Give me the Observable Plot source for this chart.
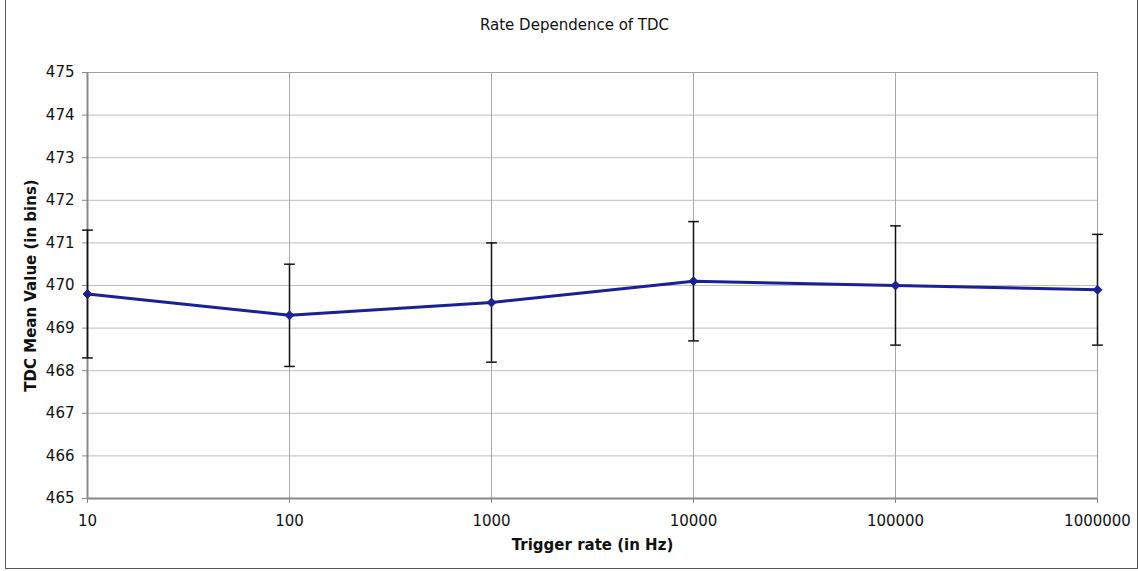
<!DOCTYPE html>
<html>
<head>
<meta charset="utf-8">
<script src="https://cdn.jsdelivr.net/npm/d3@7"></script>
<script src="https://cdn.jsdelivr.net/npm/@observablehq/plot@0.6"></script>
<style>
  html, body { margin: 0; padding: 0; background: #fff; }
  #wrap { position: relative; width: 1138px; height: 571px; }
  #border { position: absolute; left: 5px; top: -1px; width: 1133px; height: 570px; border: 1.5px solid #555; box-sizing: border-box; pointer-events: none; }
</style>
</head>
<body>
<div id="wrap"><div id="border"></div></div>
<script>
const rates = [10, 100, 1000, 10000, 100000, 1000000];
const means = [469.8, 469.3, 469.6, 470.1, 470.0, 469.9];
const lows  = [468.3, 468.1, 468.2, 468.7, 468.6, 468.6];
const highs = [471.3, 470.5, 471.0, 471.5, 471.4, 471.2];
const xTicks = [10, 100, 1000, 10000, 100000, 1000000];
const yTicks = [465, 466, 467, 468, 469, 470, 471, 472, 473, 474, 475];
const titleText = "Rate Dependence of TDC";
const xLabel = "Trigger rate (in Hz)";
const yLabel = "TDC Mean Value (in bins)";

const data = rates.map((r, i) => ({rate: r, mean: means[i], lo: lows[i], hi: highs[i]}));

const capSymbol = {
  draw(ctx, size) {
    const r = Math.sqrt(size);
    ctx.moveTo(-r, 0);
    ctx.lineTo(r, 0);
  }
};
const lineColor = "#1a2096";

const chart = Plot.plot({
  width: 1138,
  height: 571,
  marginLeft: 87,
  marginRight: 41,
  marginTop: 72,
  marginBottom: 73,
  style: { fontFamily: "'DejaVu Sans', Verdana, sans-serif", fontSize: "15px", background: "transparent", color: "#111" },
  x: { type: "log", domain: [10, 1000000], label: null },
  y: { domain: [465, 475], label: null },
  marks: [
    Plot.gridY(yTicks, { stroke: "#bdbdbd", strokeOpacity: 1, strokeWidth: 1 }),
    Plot.gridX(xTicks, { stroke: "#a8a8a8", strokeOpacity: 1, strokeWidth: 1 }),
    Plot.frame({ stroke: "#a0a0a0", strokeWidth: 1 }),
    Plot.ruleY([465], { stroke: "#888", strokeWidth: 2 }),
    Plot.ruleX([10], { stroke: "#888", strokeWidth: 2 }),
    Plot.axisY(yTicks, { tickSize: 5, tickPadding: 8, fontSize: 15, stroke: "#888", tickFormat: d => String(d) }),
    Plot.axisX(xTicks, { tickSize: 5, tickPadding: 12, fontSize: 15, stroke: "#888", tickFormat: d => String(d) }),
    Plot.ruleX(data, { x: "rate", y1: "lo", y2: "hi", stroke: "#111", strokeWidth: 1.5 }),
    Plot.dot(data, { x: "rate", y: "lo", symbol: capSymbol, r: 3, stroke: "#111", strokeWidth: 1.5 }),
    Plot.dot(data, { x: "rate", y: "hi", symbol: capSymbol, r: 3, stroke: "#111", strokeWidth: 1.5 }),
    Plot.line(data, { x: "rate", y: "mean", stroke: lineColor, strokeWidth: 3 }),
    Plot.dot(data, { x: "rate", y: "mean", symbol: "diamond2", r: 4, fill: lineColor, stroke: lineColor, strokeWidth: 1 }),
    Plot.text([titleText], { text: d => d, frameAnchor: "top", dy: -53, dx: -18, fontSize: 15 }),
    Plot.text([xLabel], { text: d => d, frameAnchor: "bottom", dy: 51, fontSize: 15, fontWeight: "bold" }),
    Plot.text([yLabel], { text: d => d, frameAnchor: "left", textAnchor: "middle", dx: -56, rotate: -90, fontSize: 15, fontWeight: "bold" })
  ]
});
document.getElementById("wrap").prepend(chart);
chart.style.position = "absolute";
chart.style.left = "0px";
chart.style.top = "0px";
</script>
</body>
</html>
